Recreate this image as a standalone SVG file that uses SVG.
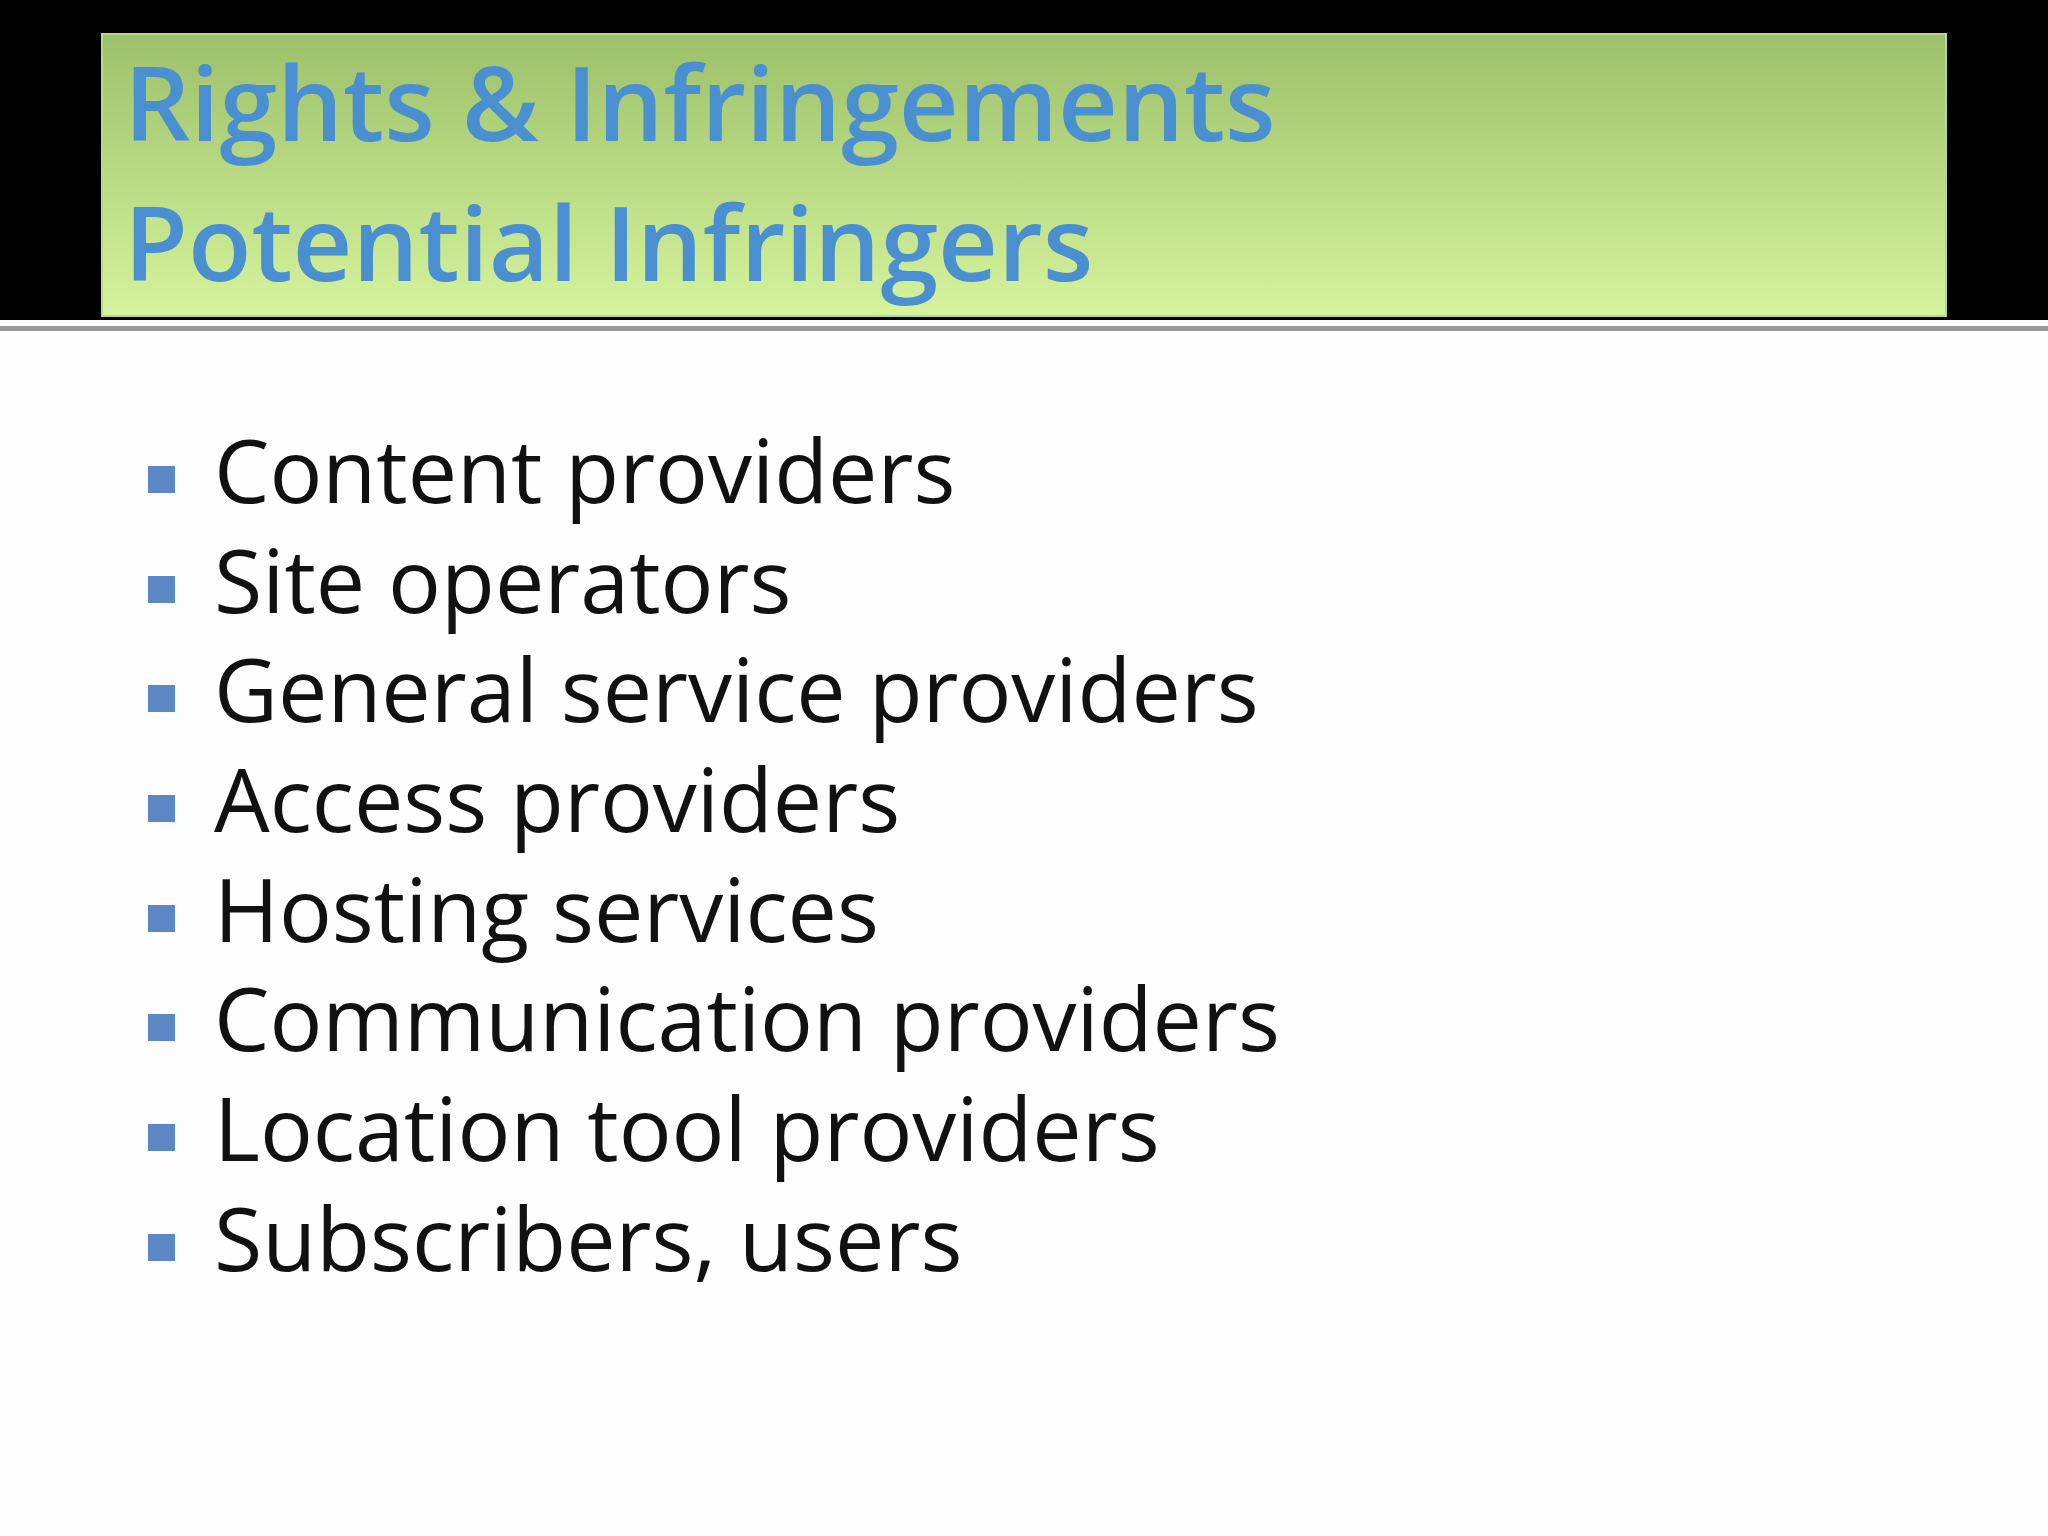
<svg xmlns="http://www.w3.org/2000/svg" width="2048" height="1536" viewBox="0 0 2048 1536">
<defs>
<linearGradient id="g" x1="0" y1="0" x2="0" y2="1"><stop offset="0" stop-color="#9dc06a"/><stop offset="1" stop-color="#d6f39d"/></linearGradient>
<style>
.t{font-family:"Open Sans","Liberation Sans",sans-serif;font-weight:600;font-size:104px;fill:#4a8fd0}
.b{font-family:"Open Sans","Liberation Sans",sans-serif;font-size:88px;fill:#111}
.sq{fill:#5b88c4}
</style>
</defs>
<rect width="2048" height="1536" fill="#fdfdfd"/>
<rect width="2048" height="320" fill="#000"/>
<rect x="0" y="326" width="2048" height="5" fill="#999"/>
<g id="title">
<rect x="102" y="34" width="1844" height="282" fill="url(#g)" stroke="#b8d88a" stroke-width="2"/>
<text class="t" x="124" y="141">Rights &amp; Infringements</text>
<text class="t" x="124" y="281">Potential Infringers</text>
</g>
<g id="list">
<rect class="sq" x="148" y="466" width="27" height="27"/><text class="b" x="214" y="503">Content providers</text>
<rect class="sq" x="148" y="576" width="27" height="27"/><text class="b" x="214" y="613">Site operators</text>
<rect class="sq" x="148" y="685" width="27" height="27"/><text class="b" x="214" y="722">General service providers</text>
<rect class="sq" x="148" y="795" width="27" height="27"/><text class="b" x="214" y="832">Access providers</text>
<rect class="sq" x="148" y="905" width="27" height="27"/><text class="b" x="214" y="942">Hosting services</text>
<rect class="sq" x="148" y="1014" width="27" height="27"/><text class="b" x="214" y="1051">Communication providers</text>
<rect class="sq" x="148" y="1124" width="27" height="27"/><text class="b" x="214" y="1161">Location tool providers</text>
<rect class="sq" x="148" y="1234" width="27" height="27"/><text class="b" x="214" y="1271">Subscribers, users</text>
</g>
</svg>
